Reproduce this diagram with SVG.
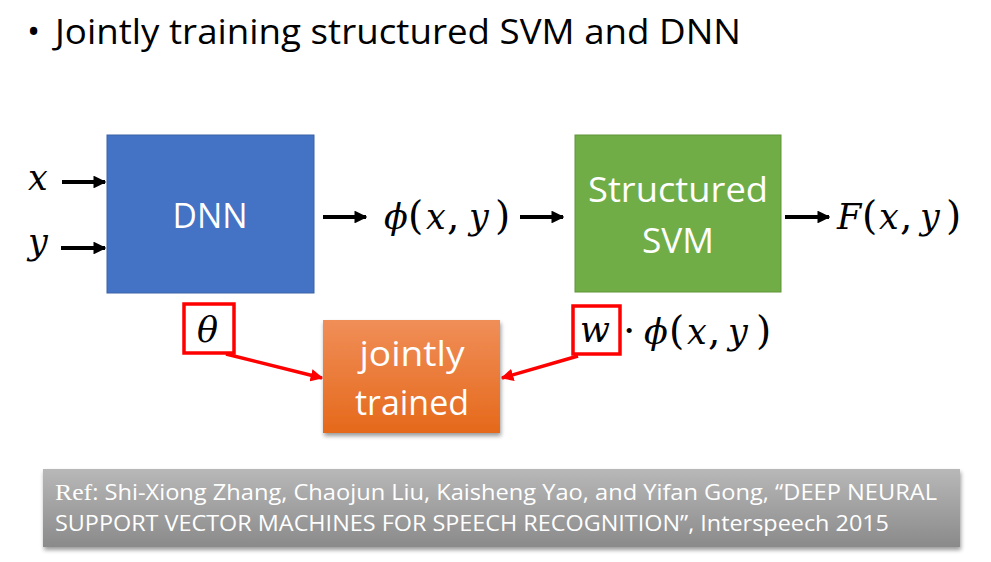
<svg xmlns="http://www.w3.org/2000/svg" width="991" height="562" viewBox="0 0 991 562">
  <style>
    .title { font-family: "Open Sans", "Liberation Sans", sans-serif; font-size: 35px; fill: #000; }
    .box-label { font-family: "Open Sans", "Liberation Sans", sans-serif; font-size: 34px; fill: #fff; text-anchor: middle; }
    .math { font-family: "DejaVu Serif", "Liberation Serif", serif; font-style: italic; font-size: 35px; fill: #000; }
    .mathup { font-family: "DejaVu Serif", "Liberation Serif", serif; font-style: normal; font-size: 39px; }
    .ref { font-family: "Open Sans", "Liberation Sans", sans-serif; font-size: 22px; fill: #fff; }
    .conn { stroke: #000; stroke-width: 4; fill: none; }
    .red { stroke: #ff0000; stroke-width: 3.5; fill: none; }
    .redbox { stroke: #ff0000; stroke-width: 3.5; fill: none; }
  </style>
  <defs>
    <marker id="arrow" viewBox="0 0 10 10" refX="9" refY="5" markerWidth="3.2" markerHeight="3.2" orient="auto" markerUnits="strokeWidth">
      <path d="M0,0 L10,5 L0,10 z" fill="#000"/>
    </marker>
    <marker id="arrow-red" viewBox="0 0 10 10" refX="9" refY="5" markerWidth="3.6" markerHeight="3.6" orient="auto" markerUnits="strokeWidth">
      <path d="M0,0 L10,5 L0,10 z" fill="#ff0000"/>
    </marker>
    <linearGradient id="orange" x1="0" y1="0" x2="0" y2="1">
      <stop offset="0" stop-color="#F08E58"/>
      <stop offset="1" stop-color="#E5691B"/>
    </linearGradient>
    <linearGradient id="gray" x1="0" y1="0" x2="0" y2="1">
      <stop offset="0" stop-color="#B8B8B8"/>
      <stop offset="1" stop-color="#8A8A8A"/>
    </linearGradient>
    <filter id="shadow" x="-10%" y="-10%" width="120%" height="130%">
      <feGaussianBlur in="SourceAlpha" stdDeviation="2"/>
      <feOffset dx="1" dy="3"/>
      <feComponentTransfer><feFuncA type="linear" slope="0.4"/></feComponentTransfer>
      <feMerge><feMergeNode/><feMergeNode in="SourceGraphic"/></feMerge>
    </filter>
  </defs>

  <rect width="991" height="562" fill="#fff"/>

  <!-- heading -->
  <text class="title" x="27" y="44">•</text>
  <text class="title" x="55" y="44" textLength="686" lengthAdjust="spacingAndGlyphs">Jointly training structured SVM and DNN</text>

  <!-- DNN block -->
  <g id="dnn">
    <rect x="107" y="135" width="207" height="158" fill="#4472C4" stroke="#3A62A8" stroke-width="1"/>
    <text class="box-label" x="210" y="228" textLength="75" lengthAdjust="spacingAndGlyphs">DNN</text>
  </g>

  <!-- structured SVM block -->
  <g id="svm">
    <rect x="575" y="135" width="206" height="157" fill="#70AD47" stroke="#5E9639" stroke-width="1"/>
    <text class="box-label" x="678" y="202" textLength="180" lengthAdjust="spacingAndGlyphs">Structured</text>
    <text class="box-label" x="678" y="253" textLength="72" lengthAdjust="spacingAndGlyphs">SVM</text>
  </g>

  <!-- jointly trained block -->
  <g id="jointly-trained">
    <rect x="323" y="320" width="177" height="113" fill="url(#orange)" filter="url(#shadow)"/>
    <text class="box-label" x="412" y="366" textLength="105" lengthAdjust="spacingAndGlyphs">jointly</text>
    <text class="box-label" x="412" y="415" textLength="114" lengthAdjust="spacingAndGlyphs">trained</text>
  </g>

  <!-- inputs, outputs and parameters (glyphs placed one by one) -->
  <g id="input-x"><text class="math" x="28" y="190">x</text></g>
  <g id="input-y"><text class="math" x="28" y="254">y</text></g>
  <g id="feature"><text class="math" x="384 408 426 447 469 495" y="229">ϕ<tspan class="mathup">(</tspan>x<tspan class="mathup">,</tspan>y<tspan class="mathup">)</tspan></text></g>
  <g id="output"><text class="math" x="837 862 879 900 920 946" y="229">F<tspan class="mathup">(</tspan>x<tspan class="mathup">,</tspan>y<tspan class="mathup">)</tspan></text></g>
  <g id="theta">
    <rect class="redbox" x="184" y="304" width="50" height="49"/>
    <text class="math" x="197" y="342">θ</text>
  </g>
  <g id="weights">
    <rect class="redbox" x="573" y="306" width="47" height="48"/>
    <text class="math" x="580" y="342">w</text>
    <text class="math" x="623 644 669 687 708 728 756" y="344"><tspan class="mathup">·</tspan>ϕ<tspan class="mathup">(</tspan>x<tspan class="mathup">,</tspan>y<tspan class="mathup">)</tspan></text>
  </g>

  <!-- connectors -->
  <g id="connectors">
    <line class="conn" x1="62" y1="182" x2="105" y2="182" marker-end="url(#arrow)"/>
    <line class="conn" x1="61" y1="248" x2="105" y2="248" marker-end="url(#arrow)"/>
    <line class="conn" x1="323" y1="217" x2="366" y2="217" marker-end="url(#arrow)"/>
    <line class="conn" x1="520" y1="217" x2="563" y2="217" marker-end="url(#arrow)"/>
    <line class="conn" x1="785" y1="217" x2="829" y2="217" marker-end="url(#arrow)"/>
    <line class="red" x1="226" y1="354" x2="322" y2="378" marker-end="url(#arrow-red)"/>
    <line class="red" x1="578" y1="356" x2="502" y2="378" marker-end="url(#arrow-red)"/>
  </g>

  <!-- reference banner -->
  <g id="reference">
    <rect x="43" y="469" width="917" height="78" fill="url(#gray)" filter="url(#shadow)"/>
    <text class="ref" x="55" y="500" textLength="882" lengthAdjust="spacingAndGlyphs"><tspan font-family="Liberation Serif, serif" font-size="24">Ref</tspan>: Shi-Xiong Zhang, Chaojun Liu, Kaisheng Yao, and Yifan Gong, “DEEP NEURAL</text>
    <text class="ref" x="55" y="531" textLength="834" lengthAdjust="spacingAndGlyphs">SUPPORT VECTOR MACHINES FOR SPEECH RECOGNITION”, Interspeech 2015</text>
  </g>
</svg>
